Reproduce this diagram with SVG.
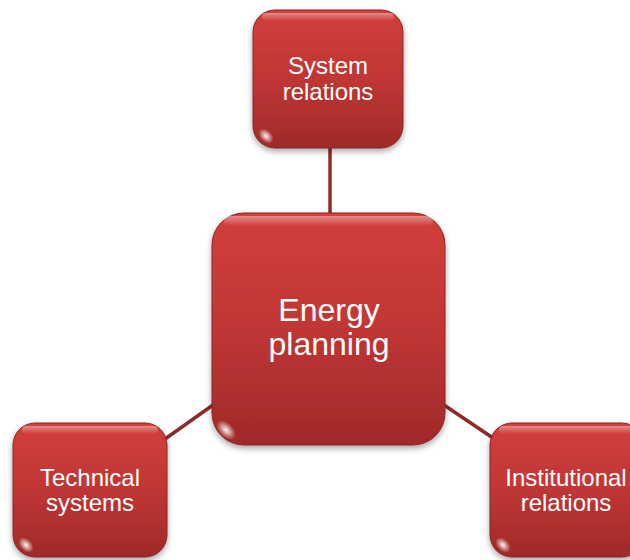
<svg xmlns="http://www.w3.org/2000/svg" width="630" height="560" viewBox="0 0 630 560">
<defs>
<linearGradient id="g" x1="0" y1="0" x2="0" y2="1">
<stop offset="0" stop-color="#d23f3c"/>
<stop offset="0.5" stop-color="#c03634"/>
<stop offset="1" stop-color="#9f2a29"/>
</linearGradient>
<linearGradient id="hl" x1="0" y1="0" x2="0" y2="1">
<stop offset="0" stop-color="#ffffff" stop-opacity="0.4"/>
<stop offset="1" stop-color="#ffffff" stop-opacity="0"/>
</linearGradient>
<radialGradient id="glint" cx="0.5" cy="0.5" r="0.5">
<stop offset="0" stop-color="#ffffff" stop-opacity="0.95"/>
<stop offset="1" stop-color="#ffffff" stop-opacity="0"/>
</radialGradient>
<filter id="sh" x="-20%" y="-20%" width="140%" height="140%">
<feGaussianBlur in="SourceAlpha" stdDeviation="3"/>
<feOffset dx="0" dy="3" result="b"/>
<feComponentTransfer><feFuncA type="linear" slope="0.35"/></feComponentTransfer>
<feMerge><feMergeNode/><feMergeNode in="SourceGraphic"/></feMerge>
</filter>
</defs>
<style>
.box{fill:url(#g);stroke:#8a2626;stroke-width:1;filter:url(#sh)}
.hl{fill:url(#hl)}
.gl{fill:url(#glint)}
.t{font-family:"Liberation Sans",Arial,sans-serif;fill:#ffffff;text-anchor:middle}
.c{stroke:#8c2b2b;stroke-width:3.5;fill:none}
</style>
<g id="connectors">
<line class="c" x1="330" y1="148" x2="330" y2="214"/>
<line class="c" x1="165" y1="439" x2="213" y2="405"/>
<line class="c" x1="444" y1="405" x2="493" y2="438"/>
</g>
<g id="system-relations">
<rect class="box" x="253" y="10" width="150" height="138" rx="22"/>
<rect class="hl" x="262" y="13" width="132" height="8" rx="4"/>
<ellipse class="gl" cx="266" cy="136" rx="9" ry="6" transform="rotate(45 266 136)"/>
<text class="t" x="328" y="74" font-size="24">System</text>
<text class="t" x="328" y="100" font-size="24">relations</text>
</g>
<g id="energy-planning">
<rect class="box" x="212" y="213" width="233" height="232" rx="32"/>
<rect class="hl" x="224" y="216" width="209" height="10" rx="5"/>
<ellipse class="gl" cx="226" cy="430" rx="12" ry="7" transform="rotate(45 226 430)"/>
<text class="t" x="329" y="321" font-size="32">Energy</text>
<text class="t" x="329" y="355" font-size="32">planning</text>
</g>
<g id="technical-systems">
<rect class="box" x="13" y="423" width="154" height="134" rx="22"/>
<rect class="hl" x="22" y="426" width="136" height="8" rx="4"/>
<ellipse class="gl" cx="26" cy="545" rx="9" ry="6" transform="rotate(45 26 545)"/>
<text class="t" x="90" y="486" font-size="24">Technical</text>
<text class="t" x="90" y="511" font-size="24">systems</text>
</g>
<g id="institutional-relations">
<rect class="box" x="490" y="423" width="154" height="134" rx="22"/>
<rect class="hl" x="499" y="426" width="136" height="8" rx="4"/>
<ellipse class="gl" cx="503" cy="545" rx="9" ry="6" transform="rotate(45 503 545)"/>
<text class="t" x="566" y="486" font-size="24">Institutional</text>
<text class="t" x="566" y="511" font-size="24">relations</text>
</g>
</svg>
